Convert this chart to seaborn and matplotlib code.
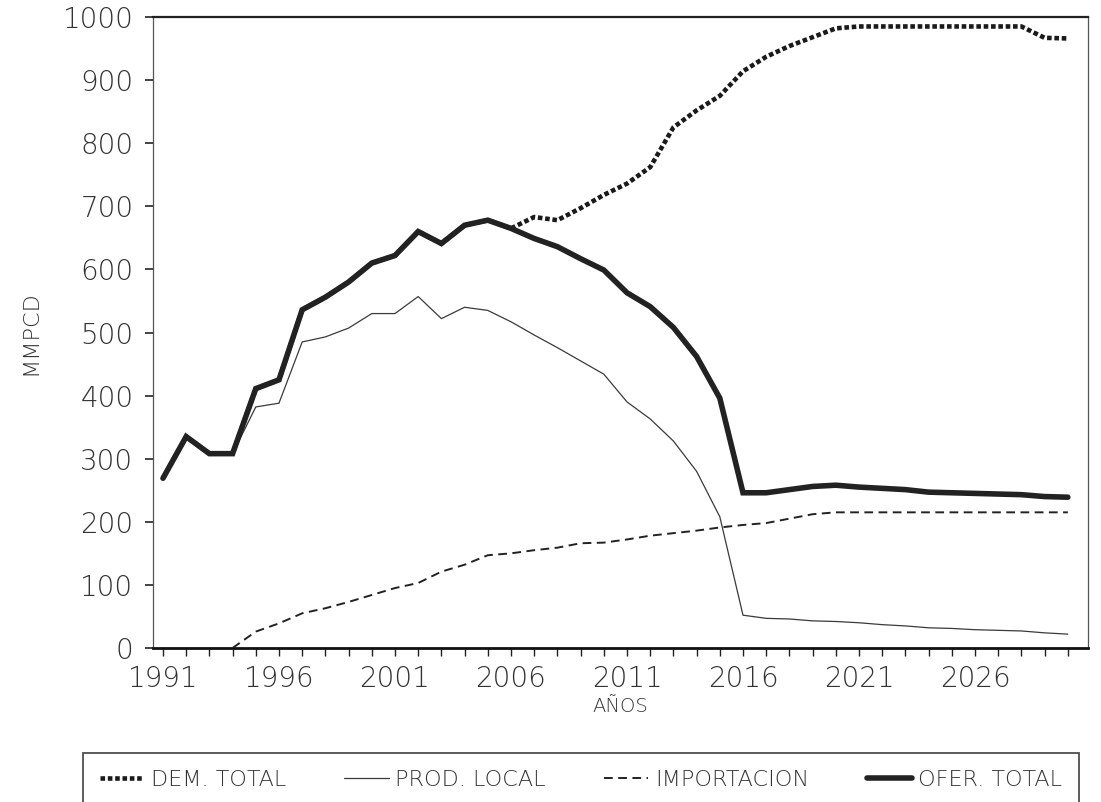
import numpy as np
import pandas as pd
import matplotlib
matplotlib.use("Agg")
import matplotlib.pyplot as plt
import seaborn as sns

years = list(range(1991, 2031))

dem_total = [269, 335, 308, 308, 411, 425, 536, 556, 580, 610,
             622, 660, 641, 670, 678, 665, 683, 678, 697, 718,
             736, 762, 825, 852, 875, 914, 937, 954, 968, 982,
             985, 985, 985, 985, 985, 985, 985, 985, 967, 966]

prod_local = [269, 335, 308, 308, 382, 388, 485, 493, 507, 530,
              530, 557, 522, 540, 535, 517, 496, 476, 455, 434,
              390, 363, 328, 280, 208, 52, 47, 46, 43, 42,
              40, 37, 35, 32, 31, 29, 28, 27, 24, 22]

importacion = [np.nan, np.nan, np.nan, 0, 26, 39, 55, 63, 73, 84,
               95, 103, 121, 132, 147, 150, 155, 159, 166, 167,
               172, 178, 182, 186, 191, 195, 198, 205, 212, 215,
               215, 215, 215, 215, 215, 215, 215, 215, 215, 215]

ofer_total = [269, 335, 308, 308, 411, 425, 536, 556, 580, 610,
              622, 660, 641, 670, 678, 665, 649, 636, 617, 599,
              563, 541, 508, 462, 396, 246, 246, 251, 256, 258,
              255, 253, 251, 247, 246, 245, 244, 243, 240, 239]

series_names = ["DEM. TOTAL", "PROD. LOCAL", "IMPORTACION", "OFER. TOTAL"]

df = pd.DataFrame({"year": years,
                   "DEM. TOTAL": dem_total,
                   "PROD. LOCAL": prod_local,
                   "IMPORTACION": importacion,
                   "OFER. TOTAL": ofer_total})

sns.set_style("white")
plt.rcParams["font.family"] = ["DejaVu Sans"]

fig = plt.figure(figsize=(11.01, 8.02), dpi=100)
ax = fig.add_axes([153 / 1101, 1 - 648 / 802, (1088 - 153) / 1101, (648 - 17) / 802])

styles = {
    "DEM. TOTAL": dict(color="#1a1a1a", lw=3.3, dashes=(1.0, 0.6), z=2),
    "PROD. LOCAL": dict(color="#3a3a3a", lw=0.9, dashes=None, z=3),
    "IMPORTACION": dict(color="#222222", lw=1.4, dashes=(4.5, 2.8), z=3),
    "OFER. TOTAL": dict(color="#222222", lw=4.0, dashes=None, z=4),
}

handles = []
for name in series_names:
    st = styles[name]
    sns.lineplot(data=df, x="year", y=name, ax=ax, color=st["color"],
                 linewidth=st["lw"], zorder=st["z"], label=name, legend=False)
    line = ax.get_lines()[-1]
    if st["dashes"] is not None:
        line.set_dashes(st["dashes"])
        line.set_dash_capstyle("butt")
    else:
        line.set_solid_joinstyle("miter")
    handles.append(line)

ax.set_xlim(1990.57, 2030.87)
ax.set_ylim(0, 1000)
ax.set_yticks(range(0, 1001, 100))
ax.set_xticks(years)
ax.set_xticklabels([str(y) if (y - 1991) % 5 == 0 else "" for y in years])

ax.tick_params(axis="y", direction="out", length=6, width=1.2, pad=8, left=True, colors="#222222")
ax.tick_params(axis="x", direction="out", length=6, width=1.0, pad=6, bottom=True, colors="#222222")
for lab in ax.get_xticklabels() + ax.get_yticklabels():
    lab.set_fontsize(20)
    lab.set_fontweight("light")
    lab.set_color("#333333")

ax.set_xlabel("AÑOS", fontsize=14, color="#333333", labelpad=3, fontweight="light")
ax.set_ylabel("MMPCD", fontsize=16, color="#333333", labelpad=16, fontweight="light")

for side in ["left", "right"]:
    ax.spines[side].set_linestyle((0, (1, 1)))
    ax.spines[side].set_linewidth(0.9)
    ax.spines[side].set_color("#555555")
ax.spines["top"].set_linewidth(1.6)
ax.spines["top"].set_color("#222222")
ax.spines["bottom"].set_linewidth(2.0)
ax.spines["bottom"].set_color("#111111")

leg = fig.legend(handles=handles, labels=series_names, loc="upper left",
                 bbox_to_anchor=(83 / 1101, 1 - 753 / 802, (1079 - 83) / 1101, 0.0),
                 mode="expand", ncol=4, fontsize=16, frameon=True, fancybox=False,
                 edgecolor="#222222", borderpad=0.75, handlelength=2.0,
                 handletextpad=0.3, borderaxespad=0.0)
leg.get_frame().set_linewidth(1.3)
for t in leg.get_texts():
    t.set_color("#333333")
    t.set_fontweight("light")

fig.savefig("out.png", dpi=100, facecolor="white")
